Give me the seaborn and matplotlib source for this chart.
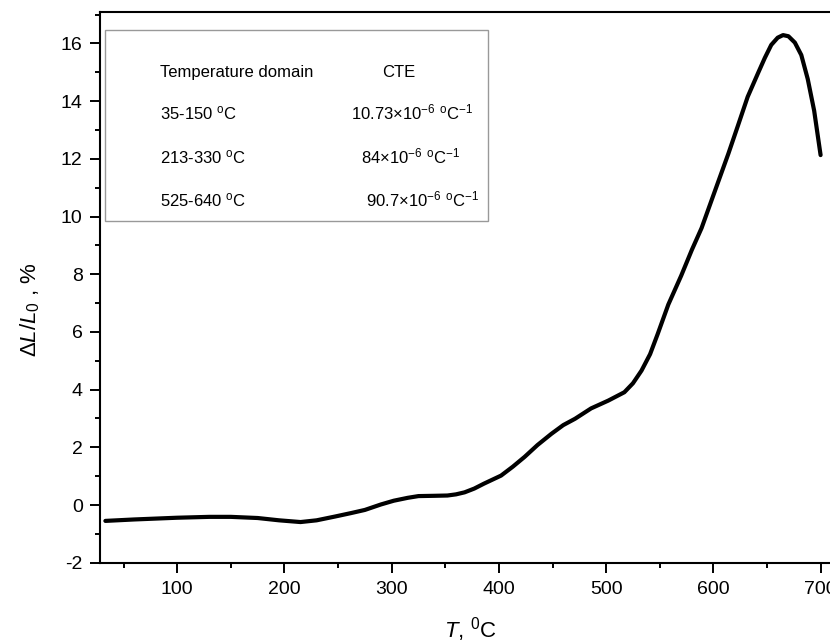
import numpy as np
import pandas as pd
import seaborn as sns
import matplotlib.pyplot as plt
from matplotlib.patches import Rectangle
from matplotlib.ticker import MultipleLocator

# dilatometry curve
temps = [33, 60, 100, 130, 150, 175, 195, 215, 230, 247, 262, 275, 290, 302,
         315, 325, 340, 352, 360, 368, 377, 386, 394, 402, 413, 424, 436, 449,
         460, 471, 486, 502, 517, 525, 533, 541, 548, 558, 570, 580, 589, 604,
         614, 623, 632, 642, 648, 654, 660, 665, 670, 676, 682, 688, 694, 700]
dl = [-0.55, -0.50, -0.44, -0.41, -0.41, -0.45, -0.53, -0.59, -0.53, -0.40,
      -0.28, -0.17, 0.02, 0.15, 0.25, 0.31, 0.32, 0.33, 0.37, 0.44, 0.57,
      0.74, 0.88, 1.02, 1.33, 1.67, 2.08, 2.47, 2.77, 2.99, 3.35, 3.62, 3.91,
      4.22, 4.66, 5.23, 5.92, 6.95, 7.95, 8.85, 9.6, 11.15, 12.18, 13.16,
      14.15, 15.0, 15.5, 15.95, 16.2, 16.29, 16.25, 16.03, 15.6, 14.77, 13.67,
      12.13]

domains = ['35-150', '213-330', '525-640']
cte = ['10.73', '84', '90.7']

sns.set_style('ticks')
plt.rcParams['font.family'] = ['Liberation Sans', 'DejaVu Sans']
plt.rcParams['mathtext.fontset'] = 'custom'
plt.rcParams['mathtext.rm'] = 'Liberation Sans'
plt.rcParams['mathtext.it'] = 'Liberation Sans:italic'
plt.rcParams['axes.unicode_minus'] = False
plt.rcParams['text.color'] = 'black'
plt.rcParams['axes.labelcolor'] = 'black'
plt.rcParams['xtick.color'] = 'black'
plt.rcParams['ytick.color'] = 'black'

df = pd.DataFrame({'T': temps, 'dL': dl})

fig = plt.figure(figsize=(8.3, 6.44), dpi=100)
ax = fig.add_axes([0.1205, 0.1262, 0.894, 0.8556])
sns.lineplot(data=df, x='T', y='dL', color='black', lw=3, ax=ax,
             solid_joinstyle='round', solid_capstyle='round')

ax.set_xlim(28, 720)
ax.set_ylim(-2, 17.1)
ax.xaxis.set_major_locator(MultipleLocator(100))
ax.xaxis.set_minor_locator(MultipleLocator(50))
ax.yaxis.set_major_locator(MultipleLocator(2))
ax.yaxis.set_minor_locator(MultipleLocator(1))
ax.tick_params(which='major', length=7.5, width=1.4, labelsize=14, direction='out')
ax.tick_params(which='minor', length=3.6, width=1.4, direction='out')
ax.tick_params(axis='y', pad=5)
ax.tick_params(axis='x', pad=6)
for s in ax.spines.values():
    s.set_linewidth(1.5)
    s.set_color('black')

ax.set_xlabel(r'$T$, $^{0}$C', fontsize=16)
ax.set_ylabel(r'$\Delta L/L_0$ , %', fontsize=16)
ax.xaxis.set_label_coords(0.4987, -0.095)
ax.yaxis.set_label_coords(-0.078, 0.46)

# CTE table box
ax.add_patch(Rectangle((0.0068, 0.62), 0.516, 0.347, transform=ax.transAxes,
                       fill=False, edgecolor='#999999', lw=1.0))
ax.text(0.0808, 0.881, 'Temperature domain', transform=ax.transAxes, fontsize=12)
ax.text(0.3808, 0.881, 'CTE', transform=ax.transAxes, fontsize=12)
rows_y = [0.8047, 0.7249, 0.6474]
cte_x = [0.3384, 0.352, 0.359]
for d, c, yy, xx in zip(domains, cte, rows_y, cte_x):
    ax.text(0.0808, yy, d + r' $^{\mathrm{o}}$C', transform=ax.transAxes, fontsize=12)
    ax.text(xx, yy, c + r'$\times$10$^{-6}$ $^{\mathrm{o}}$C$^{-1}$',
            transform=ax.transAxes, fontsize=12)

fig.savefig('out.png', dpi=100)
